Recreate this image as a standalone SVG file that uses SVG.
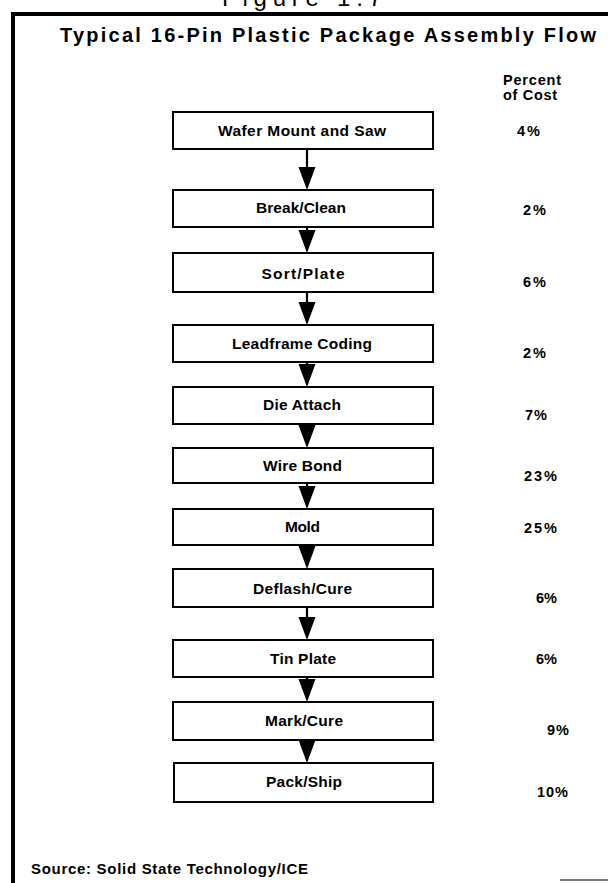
<svg xmlns="http://www.w3.org/2000/svg" width="608" height="883" viewBox="0 0 608 883">
<defs>
<style>
.bg{fill:#ffffff}
.frame{stroke:#000;stroke-width:4;fill:none}
.box{fill:#fff;stroke:#000;stroke-width:2}
.lbl{font-family:"Liberation Sans",Arial,sans-serif;font-weight:bold;font-size:15.5px;fill:#000;text-anchor:middle}
.pct{font-family:"Liberation Sans",Arial,sans-serif;font-weight:bold;font-size:14.5px;fill:#000}
.title{font-family:"Liberation Sans",Arial,sans-serif;font-weight:bold;font-size:20px;fill:#000}
.src{font-family:"Liberation Sans",Arial,sans-serif;font-weight:bold;font-size:15px;fill:#000}
.fig{font-family:"Liberation Sans",Arial,sans-serif;font-size:24px;fill:#000}
.shaft{stroke:#000;stroke-width:2.2;fill:none}
.head{fill:#000}
</style>
</defs>
<rect class="bg" x="0" y="0" width="608" height="883"/>
<g id="frame">
<text class="fig" x="222" y="6" textLength="160" lengthAdjust="spacing">Figure 1.7</text>
<line class="frame" x1="11" y1="14" x2="608" y2="14"/>
<line class="frame" x1="13" y1="12" x2="13" y2="883"/>
<line x1="560" y1="880" x2="608" y2="880" stroke="#555" stroke-width="1.5"/>
</g>
<g id="title">
<text class="title" x="60" y="42" textLength="536" lengthAdjust="spacing">Typical 16-Pin Plastic Package Assembly Flow</text>
</g>
<g id="header">
<text class="pct" x="503" y="85" textLength="58" lengthAdjust="spacing">Percent</text>
<text class="pct" x="503" y="100" textLength="54" lengthAdjust="spacing">of Cost</text>
</g>
<g id="connectors">
<line class="shaft" x1="307" y1="149" x2="307" y2="170"/><polygon class="head" points="298.5,167 315.5,167 307,190"/>
<line class="shaft" x1="307" y1="227" x2="307" y2="233"/><polygon class="head" points="298.5,230 315.5,230 307,253"/>
<line class="shaft" x1="307" y1="292" x2="307" y2="305"/><polygon class="head" points="298.5,302 315.5,302 307,325"/>
<line class="shaft" x1="307" y1="362" x2="307" y2="367"/><polygon class="head" points="298.5,364 315.5,364 307,387"/>
<line class="shaft" x1="307" y1="424" x2="307" y2="428"/><polygon class="head" points="298.5,425 315.5,425 307,448"/>
<line class="shaft" x1="307" y1="483" x2="307" y2="489"/><polygon class="head" points="298.5,486 315.5,486 307,509"/>
<line class="shaft" x1="307" y1="545" x2="307" y2="549"/><polygon class="head" points="298.5,546 315.5,546 307,569"/>
<line class="shaft" x1="307" y1="607" x2="307" y2="620"/><polygon class="head" points="298.5,617 315.5,617 307,640"/>
<line class="shaft" x1="307" y1="677" x2="307" y2="682"/><polygon class="head" points="298.5,679 315.5,679 307,702"/>
<line class="shaft" x1="307" y1="740" x2="307" y2="743"/><polygon class="head" points="298.5,740 315.5,740 307,763"/>
</g>
<g id="n1"><rect class="box" x="173" y="112" width="260" height="37"/><text class="lbl" x="302" y="136" textLength="168" lengthAdjust="spacing">Wafer Mount and Saw</text></g>
<g id="n2"><rect class="box" x="173" y="190" width="260" height="37"/><text class="lbl" x="301" y="213" textLength="90" lengthAdjust="spacing">Break/Clean</text></g>
<g id="n3"><rect class="box" x="173" y="253" width="260" height="39"/><text class="lbl" x="303" y="279" textLength="83" lengthAdjust="spacing">Sort/Plate</text></g>
<g id="n4"><rect class="box" x="173" y="325" width="260" height="37"/><text class="lbl" x="302" y="349" textLength="140" lengthAdjust="spacing">Leadframe Coding</text></g>
<g id="n5"><rect class="box" x="173" y="387" width="260" height="37"/><text class="lbl" x="302" y="410" textLength="78" lengthAdjust="spacing">Die Attach</text></g>
<g id="n6"><rect class="box" x="173" y="448" width="260" height="35"/><text class="lbl" x="302.5" y="471" textLength="79" lengthAdjust="spacing">Wire Bond</text></g>
<g id="n7"><rect class="box" x="173" y="509" width="260" height="36"/><text class="lbl" x="302.5" y="532" textLength="35" lengthAdjust="spacing">Mold</text></g>
<g id="n8"><rect class="box" x="173" y="569" width="260" height="38"/><text class="lbl" x="302.5" y="594" textLength="99" lengthAdjust="spacing">Deflash/Cure</text></g>
<g id="n9"><rect class="box" x="173" y="640" width="260" height="37"/><text class="lbl" x="303" y="664" textLength="66" lengthAdjust="spacing">Tin Plate</text></g>
<g id="n10"><rect class="box" x="173" y="702" width="260" height="38"/><text class="lbl" x="304" y="726" textLength="78" lengthAdjust="spacing">Mark/Cure</text></g>
<g id="n11"><rect class="box" x="174" y="763" width="259" height="39"/><text class="lbl" x="304" y="787" textLength="76" lengthAdjust="spacing">Pack/Ship</text></g>
<g id="percents">
<text class="pct" x="517" y="136" textLength="23" lengthAdjust="spacing">4%</text>
<text class="pct" x="523" y="215" textLength="23" lengthAdjust="spacing">2%</text>
<text class="pct" x="523" y="287" textLength="23" lengthAdjust="spacing">6%</text>
<text class="pct" x="523" y="358" textLength="23" lengthAdjust="spacing">2%</text>
<text class="pct" x="525" y="420" textLength="22" lengthAdjust="spacing">7%</text>
<text class="pct" x="524" y="481" textLength="33" lengthAdjust="spacing">23%</text>
<text class="pct" x="524" y="533" textLength="33" lengthAdjust="spacing">25%</text>
<text class="pct" x="536" y="603" textLength="21" lengthAdjust="spacing">6%</text>
<text class="pct" x="536" y="664" textLength="21" lengthAdjust="spacing">6%</text>
<text class="pct" x="547" y="735" textLength="22" lengthAdjust="spacing">9%</text>
<text class="pct" x="537" y="797" textLength="31" lengthAdjust="spacing">10%</text>
</g>
<g id="source">
<text class="src" x="31" y="874" textLength="277" lengthAdjust="spacing">Source:  Solid State Technology/ICE</text>
</g>
</svg>
